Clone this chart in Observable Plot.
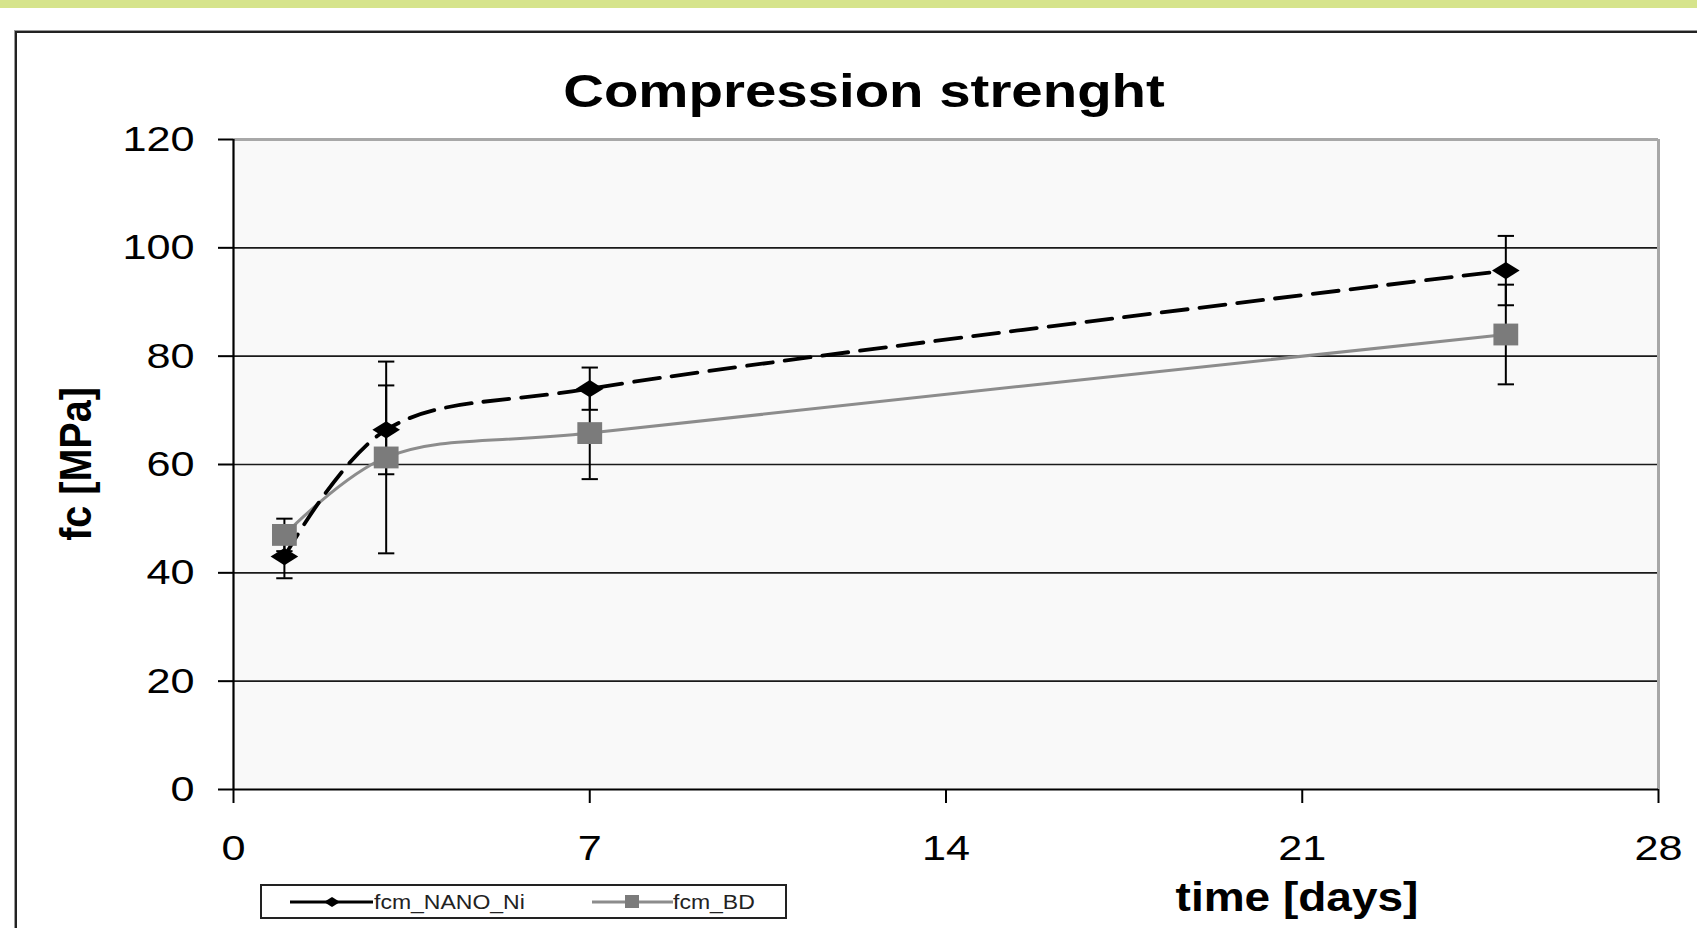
<!DOCTYPE html>
<html><head><meta charset="utf-8">
<script src="https://cdn.jsdelivr.net/npm/d3@7"></script>
<script src="https://cdn.jsdelivr.net/npm/@observablehq/plot@0.6"></script>
<style>
html,body{margin:0;padding:0;background:#fff;width:1697px;height:928px;overflow:hidden;font-family:"Liberation Sans",Arial,sans-serif;}
#strip{position:absolute;left:0;top:0;width:1697px;height:8px;background:#d6e48c;}
#frame{position:absolute;left:15px;top:31px;width:1720px;height:940px;border-left:2px solid #222;border-top:2px solid #222;box-shadow:-1px -1px 0 #999;}
#chart{position:absolute;left:0;top:0;}
.lbl{position:absolute;white-space:nowrap;line-height:1;font-weight:bold;color:#000;}
#legend{position:absolute;left:260px;top:884px;width:523px;height:31px;border:2px solid #222;background:#fff;}
#legend svg{position:absolute;left:0;top:0;}
.lt{position:absolute;white-space:nowrap;line-height:1;font-size:20px;color:#222;transform-origin:left center;transform:scaleX(1.15);}
</style></head><body>
<div id="strip"></div>
<div id="frame"></div>
<div id="chart"></div>
<div id="title" class="lbl" style="left:864px;top:67px;font-size:47px;transform:translateX(-50%) scaleX(1.2);"></div>
<div id="ylabel" class="lbl" style="left:76px;top:464px;font-size:39.5px;transform:translate(-50%,-50%) rotate(-90deg) scaleY(1.13);"></div>
<div id="xlabel" class="lbl" style="left:1297px;top:877px;font-size:40px;transform:translateX(-50%) scaleX(1.15);"></div>
<div id="legend">
  <svg width="523" height="31">
    <line x1="28" x2="111" y1="16" y2="16" stroke="#000" stroke-width="3"/>
    <path d="M62,16 L70,11 L78,16 L70,21 Z" fill="#000"/>
    <line x1="330" x2="411" y1="16" y2="16" stroke="#8c8c8c" stroke-width="3"/>
    <rect x="363" y="9" width="14" height="13" fill="#7b7b7b"/>
  </svg>
  <div id="leg1" class="lt" style="left:112px;top:6px;"></div>
  <div id="leg2" class="lt" style="left:411px;top:6px;"></div>
</div>
<script>
// ---- data ----
const chartTitle = "Compression strenght";
const xLabel = "time [days]";
const yLabel = "fc [MPa]";
const seriesNames = ["fcm_NANO_Ni", "fcm_BD"];
const days = [1, 3, 7, 25];
const nanoMean = [43, 66.4, 74, 95.8];
const nanoErr = [4, 8.2, 3.9, 6.4];
const bdMean = [47, 61.3, 65.8, 84];
const bdErr = [3, 17.7, 8.5, 9.2];
const xTicks = [0, 7, 14, 21, 28];
const yTicks = [0, 20, 40, 60, 80, 100, 120];

document.getElementById("title").textContent = chartTitle;
document.getElementById("xlabel").textContent = xLabel;
document.getElementById("ylabel").textContent = yLabel;
document.getElementById("leg1").textContent = seriesNames[0];
document.getElementById("leg2").textContent = seriesNames[1];

const mk = (mean, err, name) => days.map((d, i) => ({series: name, day: d, fc: mean[i], lo: mean[i] - err[i], hi: mean[i] + err[i]}));
const nano = mk(nanoMean, nanoErr, seriesNames[0]);
const bd = mk(bdMean, bdErr, seriesNames[1]);
const all = nano.concat(bd);
const caps = all.flatMap(d => [{day: d.day, v: d.lo}, {day: d.day, v: d.hi}]);

const xMax = d3.max(xTicks), yMax = d3.max(yTicks);

const diamondSym = {draw(ctx, size) { const r = Math.sqrt(size); ctx.moveTo(-r, 0); ctx.lineTo(0, -0.62 * r); ctx.lineTo(r, 0); ctx.lineTo(0, 0.62 * r); ctx.closePath(); }};
const squareSym = {draw(ctx, size) { const r = Math.sqrt(size); ctx.rect(-r, -0.88 * r, 2 * r, 1.76 * r); }};
const capSym = {draw(ctx, size) { const r = Math.sqrt(size); ctx.moveTo(-r, 0); ctx.lineTo(r, 0); }};

const chart = Plot.plot({
  width: 1697, height: 928,
  marginLeft: 233, marginRight: 39, marginTop: 139, marginBottom: 139,
  x: {domain: [0, xMax], label: null},
  y: {domain: [0, yMax], label: null},
  style: {background: "transparent", fontFamily: "Liberation Sans, Arial, sans-serif", color: "black"},
  marks: [
    Plot.frame({fill: "#f9f9f9", stroke: "none"}),
    Plot.ruleY(yTicks.filter(v => v > 0 && v < yMax), {stroke: "#1a1a1a", strokeWidth: 1.6}),
    Plot.ruleY([yMax], {stroke: "#a8a8a8", strokeWidth: 3}),
    Plot.ruleX([xMax], {stroke: "#a8a8a8", strokeWidth: 3}),
    Plot.axisY(yTicks, {tickSize: 15, tickPadding: 24, fontSize: 36, strokeWidth: 2, color: "black", label: null}),
    Plot.axisX(xTicks, {tickSize: 14, tickPadding: 31, fontSize: 36, strokeWidth: 2, color: "black", label: null}),
    Plot.ruleX([0], {stroke: "black", strokeWidth: 2.2}),
    Plot.ruleY([0], {stroke: "black", strokeWidth: 2.2}),
    Plot.ruleX(all, {x: "day", y1: "lo", y2: "hi", stroke: "black", strokeWidth: 2}),
    Plot.dot(caps, {x: "day", y: "v", symbol: capSym, r: 4.6, stroke: "black", strokeWidth: 2, fill: "none"}),
    Plot.line(bd, {x: "day", y: "fc", curve: "catmull-rom", stroke: "#8c8c8c", strokeWidth: 3}),
    Plot.line(nano, {x: "day", y: "fc", curve: "catmull-rom", stroke: "black", strokeWidth: 3.8, strokeDasharray: "26,12"}),
    Plot.dot(bd, {x: "day", y: "fc", symbol: squareSym, r: 7, fill: "#7b7b7b", stroke: "none"}),
    Plot.dot(nano, {x: "day", y: "fc", symbol: diamondSym, r: 7.8, fill: "black", stroke: "none"})
  ]
});
document.getElementById("chart").appendChild(chart);

function stretchText(el, s) {
  const bb = el.getBBox();
  const anchor = getComputedStyle(el).textAnchor;
  const ax = anchor === "end" ? bb.x + bb.width : anchor === "middle" ? bb.x + bb.width / 2 : bb.x;
  const tr = el.getAttribute("transform") || "";
  el.setAttribute("transform", `${tr} translate(${ax},0) scale(${s},1) translate(${-ax},0)`);
}
chart.querySelectorAll("text").forEach(t => stretchText(t, 1.2));
</script>
</body></html>
